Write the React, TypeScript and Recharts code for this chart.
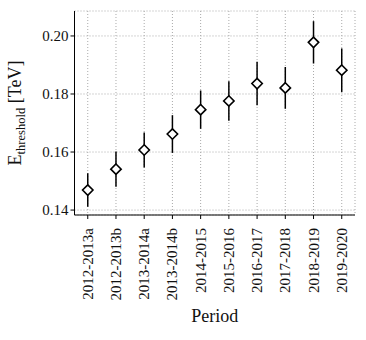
import React from "react";
import {
  ComposedChart,
  Scatter,
  ErrorBar,
  XAxis,
  YAxis,
  CartesianGrid,
} from "recharts";

// periods on the x axis
const PERIODS = [
  "2012-2013a",
  "2012-2013b",
  "2013-2014a",
  "2013-2014b",
  "2014-2015",
  "2015-2016",
  "2016-2017",
  "2017-2018",
  "2018-2019",
  "2019-2020",
];

// threshold energy in TeV, and its uncertainty
const THRESHOLD = [0.1469, 0.1541, 0.1607, 0.1662, 0.1746, 0.1776, 0.1836, 0.1821, 0.1978, 0.1882];
const THRESHOLD_ERR = [0.0058, 0.0061, 0.006, 0.0065, 0.0066, 0.0068, 0.0075, 0.0072, 0.0073, 0.0075];

const Y_TICKS = [0.14, 0.16, 0.18, 0.2];
const X_TICKS = PERIODS.map((_, i) => i);

const FONT = '"Liberation Serif", "DejaVu Serif", serif';
const INK = "#111111";

const data = PERIODS.map((p, i) => ({
  idx: i,
  period: p,
  value: THRESHOLD[i],
  err: THRESHOLD_ERR[i],
}));

// open diamond marker
const Diamond = (props: any) => {
  const { cx, cy } = props;
  const r = 5.2;
  return (
    <polygon
      points={`${cx},${cy - r} ${cx + r},${cy} ${cx},${cy + r} ${cx - r},${cy}`}
      fill="#ffffff"
      stroke="#000000"
      strokeWidth={1.6}
    />
  );
};

const PeriodTick = (props: any) => {
  const { x, y, payload } = props;
  return (
    <text
      transform={`translate(${x + 5},${y + 7}) rotate(-90)`}
      textAnchor="end"
      fontFamily={FONT}
      fontSize={15}
      fill={INK}
    >
      {PERIODS[payload.value]}
    </text>
  );
};

const YLabel = (props: any) => {
  const vb = props.viewBox || { x: 0, y: 0, height: 0 };
  const cx = vb.x + 6;
  const cy = vb.y + vb.height / 2;
  return (
    <text
      transform={`translate(${cx},${cy}) rotate(-90)`}
      textAnchor="middle"
      fontFamily={FONT}
      fontSize={18}
      fill={INK}
    >
      E
      <tspan fontSize={12.5} dy={4}>
        threshold
      </tspan>
      <tspan dy={-4}> [TeV]</tspan>
    </text>
  );
};

const XLabel = (props: any) => {
  const vb = props.viewBox || { x: 0, y: 0, width: 0 };
  return (
    <text
      x={vb.x + vb.width / 2}
      y={322}
      textAnchor="middle"
      fontFamily={FONT}
      fontSize={18}
      fill={INK}
    >
      Period
    </text>
  );
};

export default function App() {
  return (
    <div style={{ position: "fixed", left: 0, top: 0, background: "#fff" }}>
      <ComposedChart
        width={366}
        height={340}
        data={data}
        margin={{ top: 11, right: 11, bottom: 25, left: 14.5 }}
      >
        <CartesianGrid
          stroke="#aaaaaa"
          strokeDasharray="1 2"
          strokeWidth={1}
        />
        <XAxis
          dataKey="idx"
          type="number"
          domain={[-0.47, 9.47]}
          ticks={X_TICKS}
          interval={0}
          height={100}
          stroke="#000"
          tickSize={4}
          tick={<PeriodTick />}
          label={<XLabel />}
        />
        <XAxis
          xAxisId="top"
          orientation="top"
          type="number"
          domain={[-0.47, 9.47]}
          height={0}
          tick={false}
          tickLine={false}
          stroke="#000"
        />
        <YAxis
          type="number"
          domain={[0.1383, 0.2086]}
          ticks={Y_TICKS}
          width={60}
          stroke="#000"
          tickSize={4}
          tickFormatter={(v: number) => v.toFixed(2)}
          tick={{ fontFamily: FONT, fontSize: 15, fill: INK }}
          label={<YLabel />}
          allowDataOverflow
        />
        <YAxis
          yAxisId="right"
          orientation="right"
          type="number"
          domain={[0.1383, 0.2086]}
          width={0}
          tick={false}
          tickLine={false}
          stroke="#000"
        />
        <Scatter dataKey="value" isAnimationActive={false} shape={<Diamond />}>
          <ErrorBar
            dataKey="err"
            direction="y"
            width={0}
            stroke="#000"
            strokeWidth={1.5}
            isAnimationActive={false}
          />
        </Scatter>
      </ComposedChart>
    </div>
  );
}
